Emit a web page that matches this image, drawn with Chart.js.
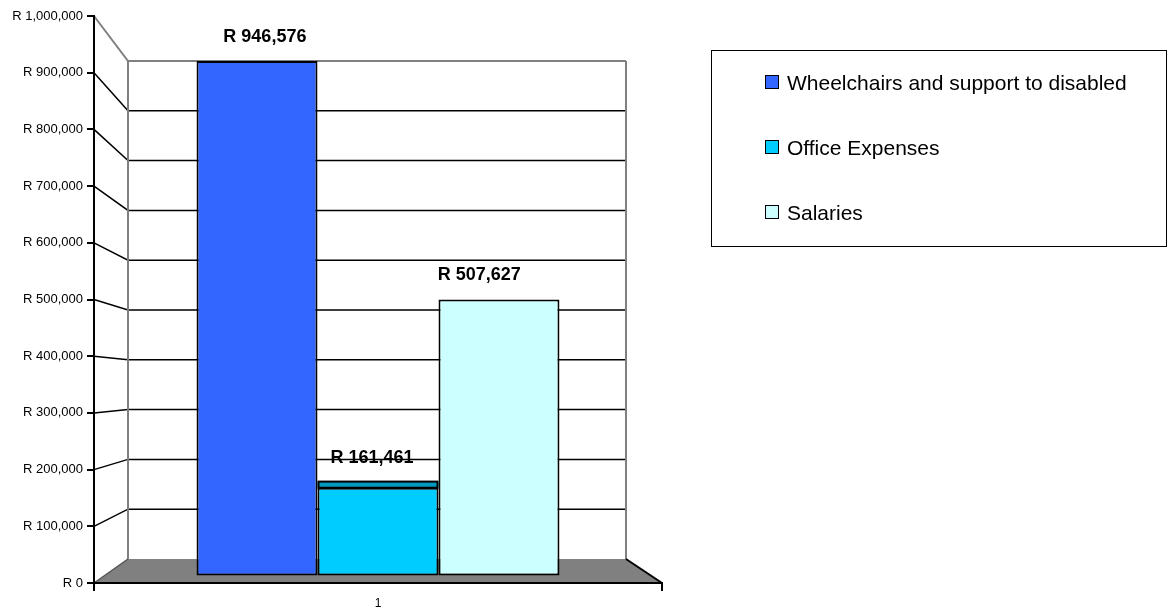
<!DOCTYPE html>
<html>
<head>
<meta charset="utf-8">
<script src="https://cdn.jsdelivr.net/npm/chart.js@4.4.0/dist/chart.umd.min.js"></script>
<style>
  html, body { margin: 0; padding: 0; background: #fff; }
  #wrap { position: relative; width: 1171px; height: 610px; overflow: hidden; }
  #c { position: absolute; left: 0; top: 0; }
  #legend {
    position: absolute; left: 711px; top: 50px; width: 454px; height: 195px;
    border: 1.5px solid #000; box-sizing: content-box;
    font-family: "Liberation Sans", Arial, sans-serif; font-size: 21px; color: #000;
  }
  #legend .item { position: absolute; left: 53px; height: 24px; line-height: 24px; white-space: nowrap; }
  #legend .sw { display: inline-block; width: 12px; height: 12px; border: 1.5px solid #000; vertical-align: middle; margin-right: 8px; position: relative; top: -2px; }
</style>
</head>
<body>
<div id="wrap">
  <canvas id="c" width="1171" height="610"></canvas>
  <div id="legend"></div>
</div>
<script>
// ---- data ----
const categories = ['1'];
const seriesLabels = ['Wheelchairs and support to disabled', 'Office Expenses', 'Salaries'];
const wheelchairs = [946576];
const officeExpenses = [161461];
const salaries = [507627];
const seriesColors = ['#3366FF', '#00CCFF', '#CCFFFF'];
const yTickMin = 0;
const yTickMax = 1000000;
const yTickStep = 100000;

const FONT = '"Liberation Sans", Arial, sans-serif';
const fmt = v => 'R ' + Number(v).toLocaleString('en-US');

function darker(hex, f) {
  const n = parseInt(hex.slice(1), 16);
  const r = Math.round(((n >> 16) & 255) * f), g = Math.round(((n >> 8) & 255) * f), b = Math.round((n & 255) * f);
  return 'rgb(' + r + ',' + g + ',' + b + ')';
}

const wallsPlugin = {
  id: 'walls',
  beforeDraw(chart) {
    const ctx = chart.ctx, ca = chart.chartArea;
    const yF = chart.scales.y, yW = chart.scales.yw;
    const wl = ca.left + 34, wr = ca.right - 36;
    ctx.save();
    // floor
    ctx.fillStyle = '#808080';
    ctx.beginPath();
    ctx.moveTo(ca.left, yF.getPixelForValue(0));
    ctx.lineTo(wl, yW.getPixelForValue(0));
    ctx.lineTo(wr, yW.getPixelForValue(0));
    ctx.lineTo(ca.right, yF.getPixelForValue(0));
    ctx.closePath();
    ctx.fill();
    // gridlines (side wall + back wall)
    for (let v = yTickMin + yTickStep; v <= yTickMax; v += yTickStep) {
      const top = v === yTickMax;
      ctx.strokeStyle = top ? '#808080' : '#000';
      ctx.lineWidth = top ? 2 : 1.5;
      ctx.beginPath();
      ctx.moveTo(ca.left, yF.getPixelForValue(v));
      ctx.lineTo(wl, yW.getPixelForValue(v));
      ctx.lineTo(wr, yW.getPixelForValue(v));
      ctx.stroke();
    }
    // wall edges
    ctx.strokeStyle = '#808080';
    ctx.lineWidth = 2;
    ctx.beginPath();
    ctx.moveTo(wl, yW.getPixelForValue(yTickMax));
    ctx.lineTo(wl, yW.getPixelForValue(0));
    ctx.moveTo(wr, yW.getPixelForValue(yTickMax));
    ctx.lineTo(wr, yW.getPixelForValue(0));
    ctx.stroke();
    // floor side edges
    ctx.strokeStyle = '#555';
    ctx.lineWidth = 1.5;
    ctx.beginPath();
    ctx.moveTo(ca.left, yF.getPixelForValue(0));
    ctx.lineTo(wl, yW.getPixelForValue(0));
    ctx.stroke();
    ctx.strokeStyle = '#000';
    ctx.lineWidth = 2;
    ctx.beginPath();
    ctx.moveTo(wr, yW.getPixelForValue(0));
    ctx.lineTo(ca.right, yF.getPixelForValue(0));
    ctx.stroke();
    ctx.restore();
  },
  afterDatasetsDraw(chart) {
    const ctx = chart.ctx, ca = chart.chartArea;
    const vx = ca.left + 232;
    ctx.save();
    chart.data.datasets.forEach((ds, di) => {
      const meta = chart.getDatasetMeta(di);
      meta.data.forEach((el, i) => {
        const faceH = Math.max(0, (el.y - ca.top - 280) * 0.032);
        const left = el.x - el.width / 2;
        if (faceH > 0.8) {
          ctx.fillStyle = darker(ds.backgroundColor, 0.75);
          ctx.fillRect(left, el.y - faceH, el.width, faceH);
          ctx.strokeStyle = '#000';
          ctx.lineWidth = 2;
          ctx.strokeRect(left + 1, el.y - faceH, el.width - 2, faceH);
        }
        const lx = el.x + (vx - el.x) * 0.114;
        ctx.fillStyle = '#000';
        ctx.font = 'bold 18px ' + FONT;
        ctx.textAlign = 'center';
        ctx.textBaseline = 'alphabetic';
        ctx.fillText(fmt(ds.data[i]), lx, el.y - faceH - 19);
      });
    });
    ctx.restore();
  }
};

const seriesData = [wheelchairs, officeExpenses, salaries];
const chart = new Chart(document.getElementById('c'), {
  type: 'bar',
  data: {
    labels: categories,
    datasets: seriesLabels.map((lab, i) => ({
      label: lab,
      data: seriesData[i],
      backgroundColor: seriesColors[i],
      borderColor: '#000',
      borderWidth: 2,
      borderSkipped: false,
      yAxisID: 'yb',
      categoryPercentage: 0.639,
      barPercentage: 1.0
    }))
  },
  options: {
    responsive: false,
    animation: false,
    devicePixelRatio: 1,
    layout: { padding: { left: 0, right: 509, top: 16, bottom: 0 } },
    plugins: { legend: { display: false }, tooltip: { enabled: false } },
    scales: {
      x: {
        offset: true,
        grid: { offset: true, drawOnChartArea: false, drawTicks: true, tickLength: 8, color: '#000', lineWidth: 2 },
        border: { display: true, color: '#000', width: 2 },
        ticks: { color: '#000', font: { size: 12, family: FONT }, padding: 5 },
        afterFit(s) { s.height = 27; }
      },
      y: {
        position: 'left',
        min: yTickMin, max: yTickMax,
        ticks: { stepSize: yTickStep, callback: v => fmt(v), color: '#000', font: { size: 13, family: FONT }, padding: 4 },
        grid: { drawOnChartArea: false, drawTicks: true, tickLength: 7, color: '#000', lineWidth: 2 },
        border: { display: true, color: '#000', width: 2 },
        afterFit(s) { s.width = 94; }
      },
      yb: { display: false, position: 'left', min: -13800, max: 1029360 },
      yw: { display: false, position: 'left', min: -48190, max: 1090360 }
    }
  },
  plugins: [wallsPlugin]
});

// HTML legend from chart data
const lg = document.getElementById('legend');
chart.data.datasets.forEach((ds, i) => {
  const it = document.createElement('div');
  it.className = 'item';
  it.style.top = (20 + i * 65) + 'px';
  const sw = document.createElement('span');
  sw.className = 'sw';
  sw.style.background = ds.backgroundColor;
  it.appendChild(sw);
  it.appendChild(document.createTextNode(ds.label));
  lg.appendChild(it);
});
</script>
</body>
</html>
